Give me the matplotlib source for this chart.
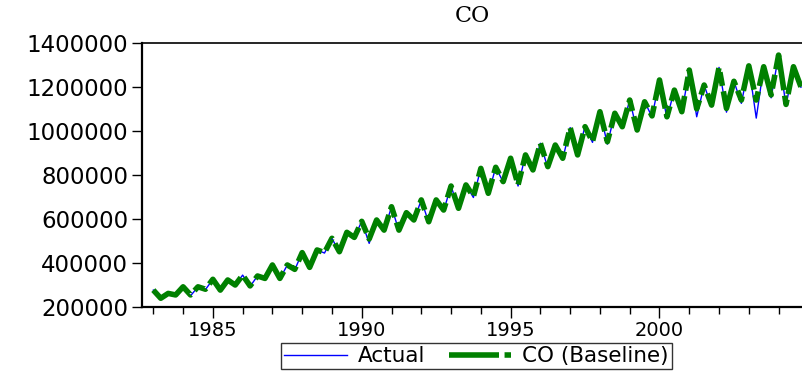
import matplotlib
matplotlib.use("Agg")
import matplotlib.pyplot as plt
from matplotlib.ticker import FixedLocator

# Quarterly turning points (thousands), 1983Q1 .. 2004Q4
years = [1983 + i / 4 for i in range(88)]
baseline_k = [
    278, 241, 263, 256,
    293, 256, 293, 282,
    327, 278, 324, 301,
    346, 297, 342, 331,
    392, 331, 392, 372,
    448, 381, 460, 448,
    513, 452, 540, 517,
    590, 510, 596, 550,
    656, 550, 629, 596,
    687, 588, 687, 641,
    750, 649, 755, 702,
    830, 717, 835, 770,
    876, 755, 891, 823,
    944, 838, 936, 876,
    1015, 891, 1019, 951,
    1087, 951, 1080, 1019,
    1140, 1004, 1132, 1068,
    1231, 1064, 1185, 1087,
    1276, 1100, 1208, 1117,
    1288, 1102, 1225, 1140,
    1295, 1140, 1291, 1163,
    1344, 1120, 1291, 1200,
]
actual_k = [
    278, 236, 266, 256,
    293, 252, 293, 280,
    327, 276, 324, 300,
    346, 295, 342, 330,
    392, 328, 392, 370,
    448, 378, 460, 446,
    513, 448, 540, 515,
    590, 490, 596, 545,
    656, 546, 629, 592,
    687, 584, 687, 638,
    750, 645, 755, 698,
    830, 712, 835, 768,
    876, 750, 891, 820,
    944, 832, 936, 872,
    1015, 885, 1022, 948,
    1087, 940, 1080, 1015,
    1140, 998, 1132, 1064,
    1231, 1058, 1185, 1082,
    1276, 1064, 1208, 1110,
    1288, 1085, 1225, 1125,
    1295, 1058, 1291, 1150,
    1344, 1115, 1291, 1198,
]
baseline = [v * 1000 for v in baseline_k]
actual = [v * 1000 for v in actual_k]

yticks = [200000, 400000, 600000, 800000, 1000000, 1200000, 1400000]
xmajor = [1985, 1990, 1995, 2000]
xminor = list(range(1983, 2005))

W, H = 803, 375
fig = plt.figure(figsize=(W / 100, H / 100), dpi=100)
ax = fig.add_axes([142 / W, 1 - 307.3 / H, (W - 142) / W, (307.3 - 42.7) / H])

ax.plot(years, actual, color="#0000FF", lw=1.0, label="Actual", zorder=2)
ax.plot(years, baseline, color="#008000", lw=4.0, linestyle=(0, (9, 1.0, 2.5, 1.0)),
        label="CO (Baseline)", zorder=3, solid_joinstyle="round", dash_joinstyle="round",
        dash_capstyle="butt")

ax.set_xlim(1982.62, 2004.82)
ax.set_ylim(200000, 1400000)
ax.set_yticks(yticks)
ax.set_yticklabels([str(v) for v in yticks])
ax.xaxis.set_major_locator(FixedLocator(xmajor))
ax.xaxis.set_minor_locator(FixedLocator([y for y in xminor if y not in xmajor]))
ax.set_xticklabels([str(v) for v in xmajor])

for lab in ax.get_yticklabels():
    lab.set_fontfamily("DejaVu Sans")
    lab.set_fontsize(16.5)
for lab in ax.get_xticklabels():
    lab.set_fontfamily("DejaVu Sans")
    lab.set_fontsize(14)

ax.tick_params(axis="y", direction="out", length=7, width=1, pad=3, colors="black")
ax.tick_params(axis="x", which="major", direction="out", length=8, width=1, pad=2)
ax.tick_params(axis="x", which="minor", direction="out", length=5, width=1)

ax.spines["left"].set_linewidth(1.6)
ax.spines["bottom"].set_linewidth(1.6)
ax.spines["top"].set_linewidth(1.2)
ax.spines["right"].set_visible(False)

ax.set_title("CO", fontfamily="DejaVu Serif", fontsize=16, pad=15)

leg = ax.legend(loc="upper center", bbox_to_anchor=(0.506, -0.135), ncol=2,
                frameon=True, fancybox=False, edgecolor="black", handlelength=2.9,
                columnspacing=1.1, handletextpad=0.5, borderpad=0.15, borderaxespad=0,
                prop=dict(family="DejaVu Sans", size=15.5))
leg.get_frame().set_linewidth(1.0)

fig.savefig("out.png", dpi=100)
